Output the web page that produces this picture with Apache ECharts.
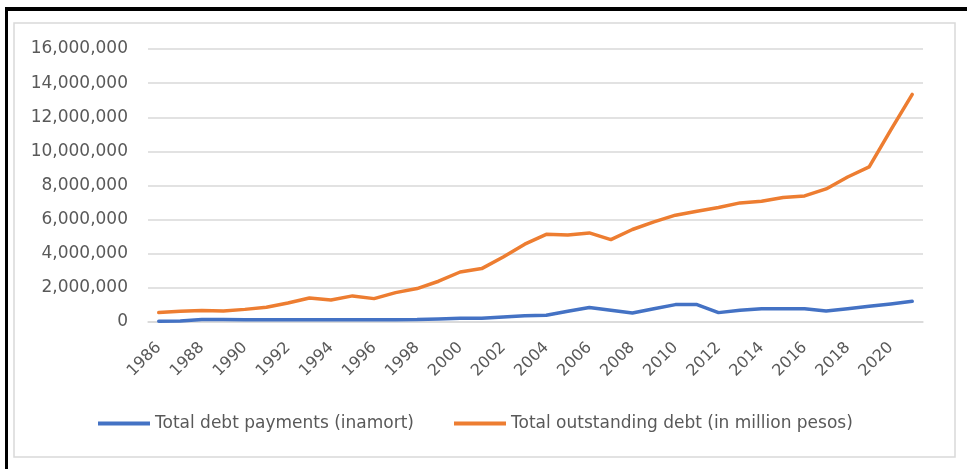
<!DOCTYPE html>
<html>
<head>
<meta charset="utf-8">
<style>
  html, body { margin: 0; padding: 0; background: #ffffff; }
  #chart { width: 967px; height: 469px; }
</style>
<script src="https://cdn.jsdelivr.net/npm/echarts@6/dist/echarts.min.js"></script>
</head>
<body>
<div id="chart"></div>
<script>
// Years on the category axis
const years = [];
for (let y = 1986; y <= 2021; y++) years.push(String(y));

// Total debt payments (inamort)
const debtPayments = [
  50000, 60000, 140000, 140000, 130000, 130000, 130000, 130000, 130000, 130000,
  130000, 130000, 140000, 180000, 220000, 220000, 300000, 370000, 400000, 630000,
  850000, 690000, 530000, 780000, 1020000, 1020000, 550000, 690000, 780000, 780000,
  780000, 650000, 780000, 920000, 1060000, 1210000
];

// Total outstanding debt (in million pesos)
const outstandingDebt = [
  550000, 630000, 670000, 650000, 740000, 860000, 1110000, 1410000, 1290000, 1530000,
  1370000, 1720000, 1960000, 2390000, 2930000, 3130000, 3810000, 4560000, 5140000, 5100000,
  5220000, 4830000, 5420000, 5870000, 6260000, 6490000, 6710000, 6980000, 7080000, 7300000,
  7390000, 7800000, 8500000, 9090000, 11240000, 13340000
];

// Value axis ticks
const yMin = 0, yMax = 16000000, yStep = 2000000;

const FONT = 'DejaVu Sans, sans-serif';
const TEXT = '#595959';

const chart = echarts.init(document.getElementById('chart'));
chart.setOption({
  animation: false,
  backgroundColor: '#ffffff',
  graphic: [
    { type: 'rect', shape: { x: 14, y: 23, width: 941, height: 434 },
      style: { fill: 'none', stroke: '#d9d9d9', lineWidth: 1.5 }, silent: true },
    { type: 'rect', shape: { x: 5, y: 7, width: 962, height: 4 },
      style: { fill: '#000000' }, silent: true },
    { type: 'rect', shape: { x: 5, y: 7, width: 3, height: 462 },
      style: { fill: '#000000' }, silent: true }
  ],
  grid: { left: 148, right: 44, top: 49, bottom: 147 },
  legend: {
    left: 93, top: 410,
    itemWidth: 52, itemHeight: 4, itemGap: 40,
    icon: 'rect',
    textStyle: { color: TEXT, fontSize: 17, fontFamily: FONT },
    data: ['Total debt payments (inamort)', 'Total outstanding debt (in million pesos)']
  },
  xAxis: {
    type: 'category',
    data: years,
    boundaryGap: true,
    axisLine: { lineStyle: { color: '#d9d9d9', width: 1.5 } },
    axisTick: { show: false },
    axisLabel: {
      interval: 1, rotate: 45, margin: 23,
      color: TEXT, fontSize: 16, fontFamily: FONT
    }
  },
  yAxis: {
    type: 'value',
    min: yMin, max: yMax, interval: yStep,
    axisLine: { show: false },
    axisTick: { show: false },
    splitLine: { lineStyle: { color: '#d9d9d9', width: 1.5 } },
    axisLabel: {
      margin: 20, color: TEXT, fontSize: 17, fontFamily: FONT,
      formatter: v => v.toLocaleString('en-US')
    }
  },
  series: [
    {
      name: 'Total debt payments (inamort)',
      type: 'line', data: debtPayments, symbol: 'none',
      itemStyle: { color: '#4472C4' },
      lineStyle: { color: '#4472C4', width: 3.5, join: 'round', cap: 'round' }
    },
    {
      name: 'Total outstanding debt (in million pesos)',
      type: 'line', data: outstandingDebt, symbol: 'none',
      itemStyle: { color: '#ED7D31' },
      lineStyle: { color: '#ED7D31', width: 3.5, join: 'round', cap: 'round' }
    }
  ]
});
</script>
</body>
</html>
